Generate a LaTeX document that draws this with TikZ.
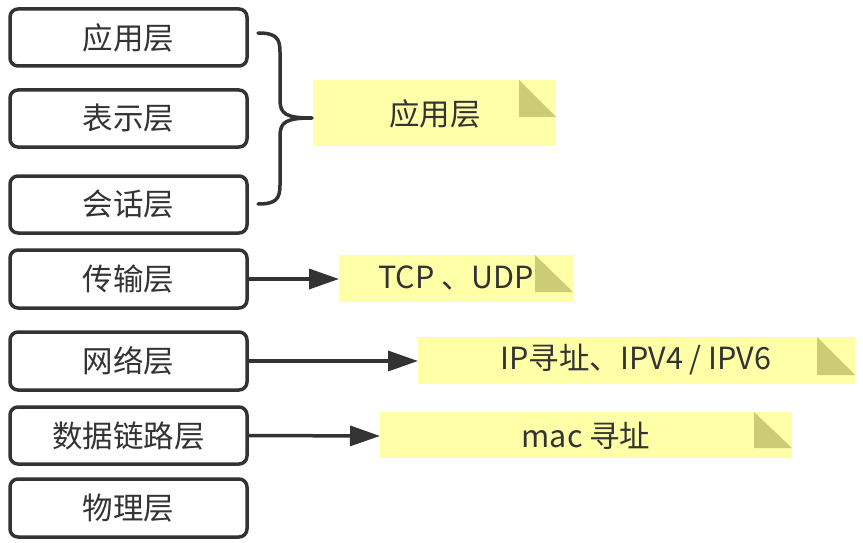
\documentclass[tikz,border=0pt]{standalone}
\usepackage{fontspec}
\setmainfont{Noto Sans CJK SC}
\usetikzlibrary{arrows.meta}
\definecolor{boxline}{HTML}{333333}
\definecolor{notefill}{HTML}{FFFFA8}
\definecolor{notefold}{HTML}{CCCC77}
\tikzset{
  layer/.style={draw=boxline, line width=3.5pt, rounded corners=8pt, fill=white},
  notebody/.style={fill=notefill, draw=none},
  notefoldst/.style={fill=notefold, draw=none},
  txt/.style={font=\fontsize{30.5}{34}\selectfont, text=boxline, inner sep=0pt},
  link/.style={draw=boxline, line width=3.5pt, -{Triangle[length=30pt,width=20pt]}}
}
\begin{document}
\begin{tikzpicture}[x=1pt,y=-1pt]
\useasboundingbox (0,0) rectangle (863,543);
% layer boxes
\foreach \n/\t/\b/\lab in {a/9/66/应用层, b/90/147/表示层, c/176/233/会话层, d/250/308/传输层, e/332/390/网络层, f/407/464/数据链路层, g/479/537/物理层}{
  \draw[layer] (10,\t) rectangle (247,\b);
  \node[txt] (\n) at (128.5,{(\t+\b)/2}) {\lab};
  \coordinate (\n r) at (247,{(\t+\b)/2});
}
% notes
\fill[notebody] (313,80) rectangle (556,146);
\fill[notefoldst] (519,80) -- (556,117) -- (519,117) -- cycle;
\node[txt] (n1) at (435,114) {应用层};
\coordinate (n1l) at (313,118);

\fill[notebody] (339,255) rectangle (573,302);
\fill[notefoldst] (535,255) -- (573,292) -- (535,292) -- cycle;
\node[txt] (n2) at (456,278) {TCP 、UDP};
\coordinate (n2l) at (339,279);

\fill[notebody] (418,337) rectangle (855,384);
\fill[notefoldst] (817,337) -- (855,375) -- (817,375) -- cycle;
\node[txt] (n3) at (636,360) {IP寻址、IPV4 / IPV6};
\coordinate (n3l) at (418,361);

\fill[notebody] (380,412) rectangle (792,458);
\fill[notefoldst] (754,412) -- (792,448) -- (754,448) -- cycle;
\node[txt] (n4) at (586,436) {mac 寻址};
\coordinate (n4l) at (380,436);

% brace
\coordinate (bt) at (258,33);
\coordinate (bb) at (258,204);
\draw[boxline, line width=3.5pt, line cap=round]
  (bt) .. controls (276,33) and (280,38) .. (280,52)
  -- (280,100) .. controls (280,114) and (286,118) .. (n1l -| 312,118)
  (312,118) .. controls (286,118) and (280,122) .. (280,136)
  -- (280,185) .. controls (280,199) and (276,204) .. (bb);
% arrows
\draw[link] (dr) -- (n2l);
\draw[link] (er) -- (n3l);
\draw[link] (fr) -- (n4l);
\end{tikzpicture}
\end{document}
